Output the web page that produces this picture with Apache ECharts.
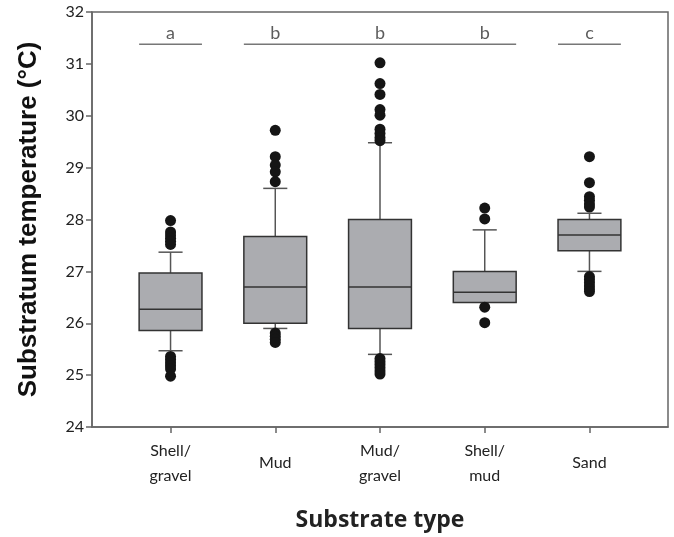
<!DOCTYPE html>
<html>
<head>
<meta charset="utf-8">
<script src="https://cdn.jsdelivr.net/npm/echarts@6/dist/echarts.min.js"></script>
<style>
  html, body { margin: 0; padding: 0; background: #fff; }
  #main { width: 674px; height: 537px; }
</style>
</head>
<body>
<div id="main"></div>
<script>
// categories along x (positioned at 1..5)
var categories = ['Shell/\ngravel', 'Mud', 'Mud/\ngravel', 'Shell/\nmud', 'Sand'];
// [lower whisker, Q1, median, Q3, upper whisker]
var boxStats = [
  [25.47, 25.86, 26.27, 26.97, 27.37],
  [25.90, 26.00, 26.70, 27.67, 28.60],
  [25.40, 25.90, 26.70, 28.00, 29.48],
  [26.40, 26.40, 26.60, 27.00, 27.80],
  [27.00, 27.40, 27.70, 28.00, 28.12]
];
// outliers per category
var outliers = [
  [27.98, 27.76, 27.70, 27.64, 27.58, 27.52, 25.36, 25.30, 25.24, 25.18, 25.12, 24.98],
  [29.72, 29.21, 29.05, 28.92, 28.73, 25.81, 25.75, 25.69, 25.63],
  [31.02, 30.62, 30.41, 30.12, 30.01, 29.74, 29.66, 29.58, 29.52,
   25.32, 25.26, 25.20, 25.14, 25.08, 25.02],
  [28.22, 28.01, 26.31, 26.01],
  [29.21, 28.71, 28.44, 28.37, 28.30, 28.24, 26.90, 26.84, 26.78, 26.72, 26.66, 26.61]
];
// significance groups: [first category, last category]
var sigGroups = [[1, 1], [2, 4], [5, 5]];
var sigLetters = ['a', 'b', 'b', 'b', 'c'];
var sigLevel = 31.38;

var BOX_W = 0.6;
var CAP_W = 0.23;

var chart = echarts.init(document.getElementById('main'));

function renderBox(params, api) {
  var x = api.value(0);
  var lo = api.coord([x, api.value(1)]);
  var q1 = api.coord([x, api.value(2)]);
  var md = api.coord([x, api.value(3)]);
  var q3 = api.coord([x, api.value(4)]);
  var hi = api.coord([x, api.value(5)]);
  var half = api.size([BOX_W, 0])[0] / 2;
  var cap = api.size([CAP_W, 0])[0] / 2;
  var cx = lo[0];
  var ln = { stroke: '#555', lineWidth: 1.5 };
  var kids = [
    { type: 'line', shape: { x1: cx, y1: hi[1], x2: cx, y2: q3[1] }, style: ln },
    { type: 'line', shape: { x1: cx - cap, y1: hi[1], x2: cx + cap, y2: hi[1] }, style: ln }
  ];
  if (api.value(1) < api.value(2)) {
    kids.push({ type: 'line', shape: { x1: cx, y1: q1[1], x2: cx, y2: lo[1] }, style: ln });
    kids.push({ type: 'line', shape: { x1: cx - cap, y1: lo[1], x2: cx + cap, y2: lo[1] }, style: ln });
  }
  kids.push({ type: 'rect', shape: { x: cx - half, y: q3[1], width: half * 2, height: q1[1] - q3[1] },
    style: { fill: '#abacb0', stroke: '#333', lineWidth: 1.5 } });
  kids.push({ type: 'line', shape: { x1: cx - half, y1: md[1], x2: cx + half, y2: md[1] },
    style: { stroke: '#333', lineWidth: 1.5 } });
  return { type: 'group', children: kids };
}

var boxData = boxStats.map(function (s, i) { return [i + 1].concat(s); });
var outlierData = [];
outliers.forEach(function (arr, i) {
  arr.forEach(function (v) { outlierData.push([i + 1, v]); });
});

var series = [
  {
    type: 'custom',
    renderItem: renderBox,
    data: boxData,
    encode: { x: 0, y: [1, 2, 3, 4, 5] },
    z: 2
  },
  {
    type: 'scatter',
    data: outlierData,
    symbol: 'circle',
    symbolSize: 11,
    itemStyle: { color: '#151515', opacity: 1 },
    z: 3
  },
  {
    type: 'scatter',
    data: sigLetters.map(function (l, i) { return [i + 1, sigLevel]; }),
    symbolSize: 0,
    label: {
      show: true,
      position: 'top',
      distance: 2,
      formatter: function (p) { return sigLetters[p.dataIndex]; },
      fontFamily: 'Lato',
      fontSize: 18,
      color: '#333'
    },
    z: 4
  }
];
sigGroups.forEach(function (g) {
  series.push({
    type: 'line',
    data: [[g[0] - BOX_W / 2, sigLevel], [g[1] + BOX_W / 2, sigLevel]],
    symbol: 'none',
    lineStyle: { color: '#777', width: 1.5 },
    z: 4
  });
});

chart.setOption({
  animation: false,
  backgroundColor: '#fff',
  grid: {
    left: 92, right: 6, top: 12, bottom: 110,
    show: true, borderColor: '#666', borderWidth: 1.5
  },
  xAxis: {
    type: 'value',
    min: 0.25,
    max: 5.75,
    name: 'Substrate type',
    nameLocation: 'middle',
    nameGap: 82,
    nameTextStyle: { fontFamily: 'Open Sans', fontWeight: 'bold', fontSize: 23, color: '#222' },
    axisLine: { show: true, lineStyle: { color: '#666', width: 1.5 } },
    axisTick: { show: true, length: 6, customValues: [1, 2, 3, 4, 5], lineStyle: { color: '#666', width: 1.5 } },
    axisLabel: {
      customValues: [1, 2, 3, 4, 5],
      formatter: function (v) { return categories[Math.round(v) - 1]; },
      fontFamily: 'Lato', fontSize: 16, color: '#222',
      verticalAlign: 'middle', margin: 36, lineHeight: 25
    },
    splitLine: { show: false }
  },
  yAxis: {
    type: 'value',
    min: 24,
    max: 32,
    interval: 1,
    name: 'Substratum temperature (°C)',
    nameLocation: 'middle',
    nameGap: 50,
    nameTextStyle: { fontFamily: 'Liberation Sans', fontWeight: 'bold', fontSize: 26, color: '#111' },
    axisLine: { show: true, lineStyle: { color: '#666', width: 1.5 } },
    axisTick: { show: true, length: 6, lineStyle: { color: '#666', width: 1.5 } },
    axisLabel: { fontFamily: 'Lato', fontSize: 16, color: '#222', margin: 8 },
    splitLine: { show: false }
  },
  series: series
});
</script>
</body>
</html>
